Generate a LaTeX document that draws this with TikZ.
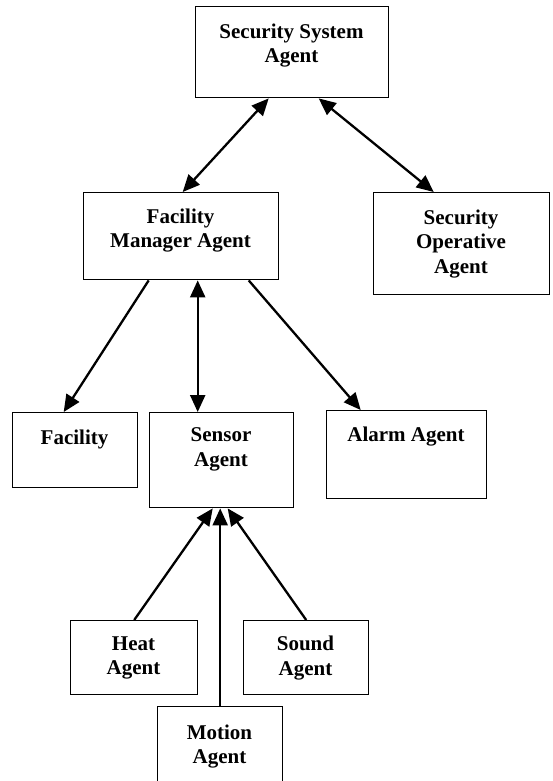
\documentclass[tikz,border=0pt]{standalone}
\usepackage{fontspec}
\setmainfont{Liberation Serif}
\usetikzlibrary{arrows.meta}
\begin{document}
\begin{tikzpicture}[x=1pt,y=-1pt,
 box/.style={draw,line width=1.4pt,inner sep=0pt,anchor=north west},
 lbl/.style={inner sep=0pt,align=center,font=\fontsize{21}{24.5}\selectfont\bfseries},
 con/.style={line width=2.3pt,-{Triangle[length=17pt,width=15pt]}},
 bicon/.style={line width=2.3pt,{Triangle[length=17pt,width=15pt]}-{Triangle[length=17pt,width=15pt]}}]
\useasboundingbox[fill=white] (0,0) rectangle (552,781);
% boxes
\node[box,minimum width=193pt,minimum height=91pt] (ssa) at (195,6) {};
\node[box,minimum width=195pt,minimum height=87pt] (fm) at (83,192) {};
\node[box,minimum width=176pt,minimum height=102pt] (so) at (373,192) {};
\node[box,minimum width=125pt,minimum height=75pt] (fac) at (12,412) {};
\node[box,minimum width=144pt,minimum height=95pt] (sen) at (149,412) {};
\node[box,minimum width=160pt,minimum height=88pt] (alm) at (326,410) {};
\node[box,minimum width=127pt,minimum height=74pt] (heat) at (70,620) {};
\node[box,minimum width=125pt,minimum height=74pt] (snd) at (243,620) {};
\node[box,minimum width=125pt,minimum height=90pt] (mot) at (157,706) {};
% labels
\node[lbl] (tssa) at (291.5,45.5) {Security System\\Agent};
\node[lbl] (tfm) at (180.5,230.5) {Facility\\Manager Agent};
\node[lbl] (tso) at (461,244) {Security\\Operative\\Agent};
\node[lbl] (tfac) at (74.5,439) {Facility};
\node[lbl] (tsen) at (221,449.5) {Sensor\\Agent};
\node[lbl] (talm) at (406,437) {Alarm Agent};
\node[lbl] (theat) at (133.5,658) {Heat\\Agent};
\node[lbl] (tsnd) at (305.5,658) {Sound\\Agent};
\node[lbl] (tmot) at (219.5,746.5) {Motion\\Agent};
% connectors
\draw[bicon] ([xshift=-23.5pt]ssa.south) -- ([xshift=1.5pt]fm.north);
\draw[bicon] ([xshift=26.5pt]ssa.south) -- ([xshift=-28pt]so.north);
\draw[con] ([xshift=-32.5pt]fm.south) -- ([xshift=-11.5pt]fac.north);
\draw[bicon] ([xshift=16.5pt]fm.south) -- ([xshift=-24pt]sen.north);
\draw[con] ([xshift=67.5pt]fm.south) -- ([xshift=-46pt]alm.north);
\draw[con] (heat.north) -- ([xshift=-9pt]sen.south);
\draw[con] (mot.north) -- (mot.north |- sen.south);
\draw[con] (snd.north) -- ([xshift=6pt]sen.south);
\end{tikzpicture}
\end{document}
